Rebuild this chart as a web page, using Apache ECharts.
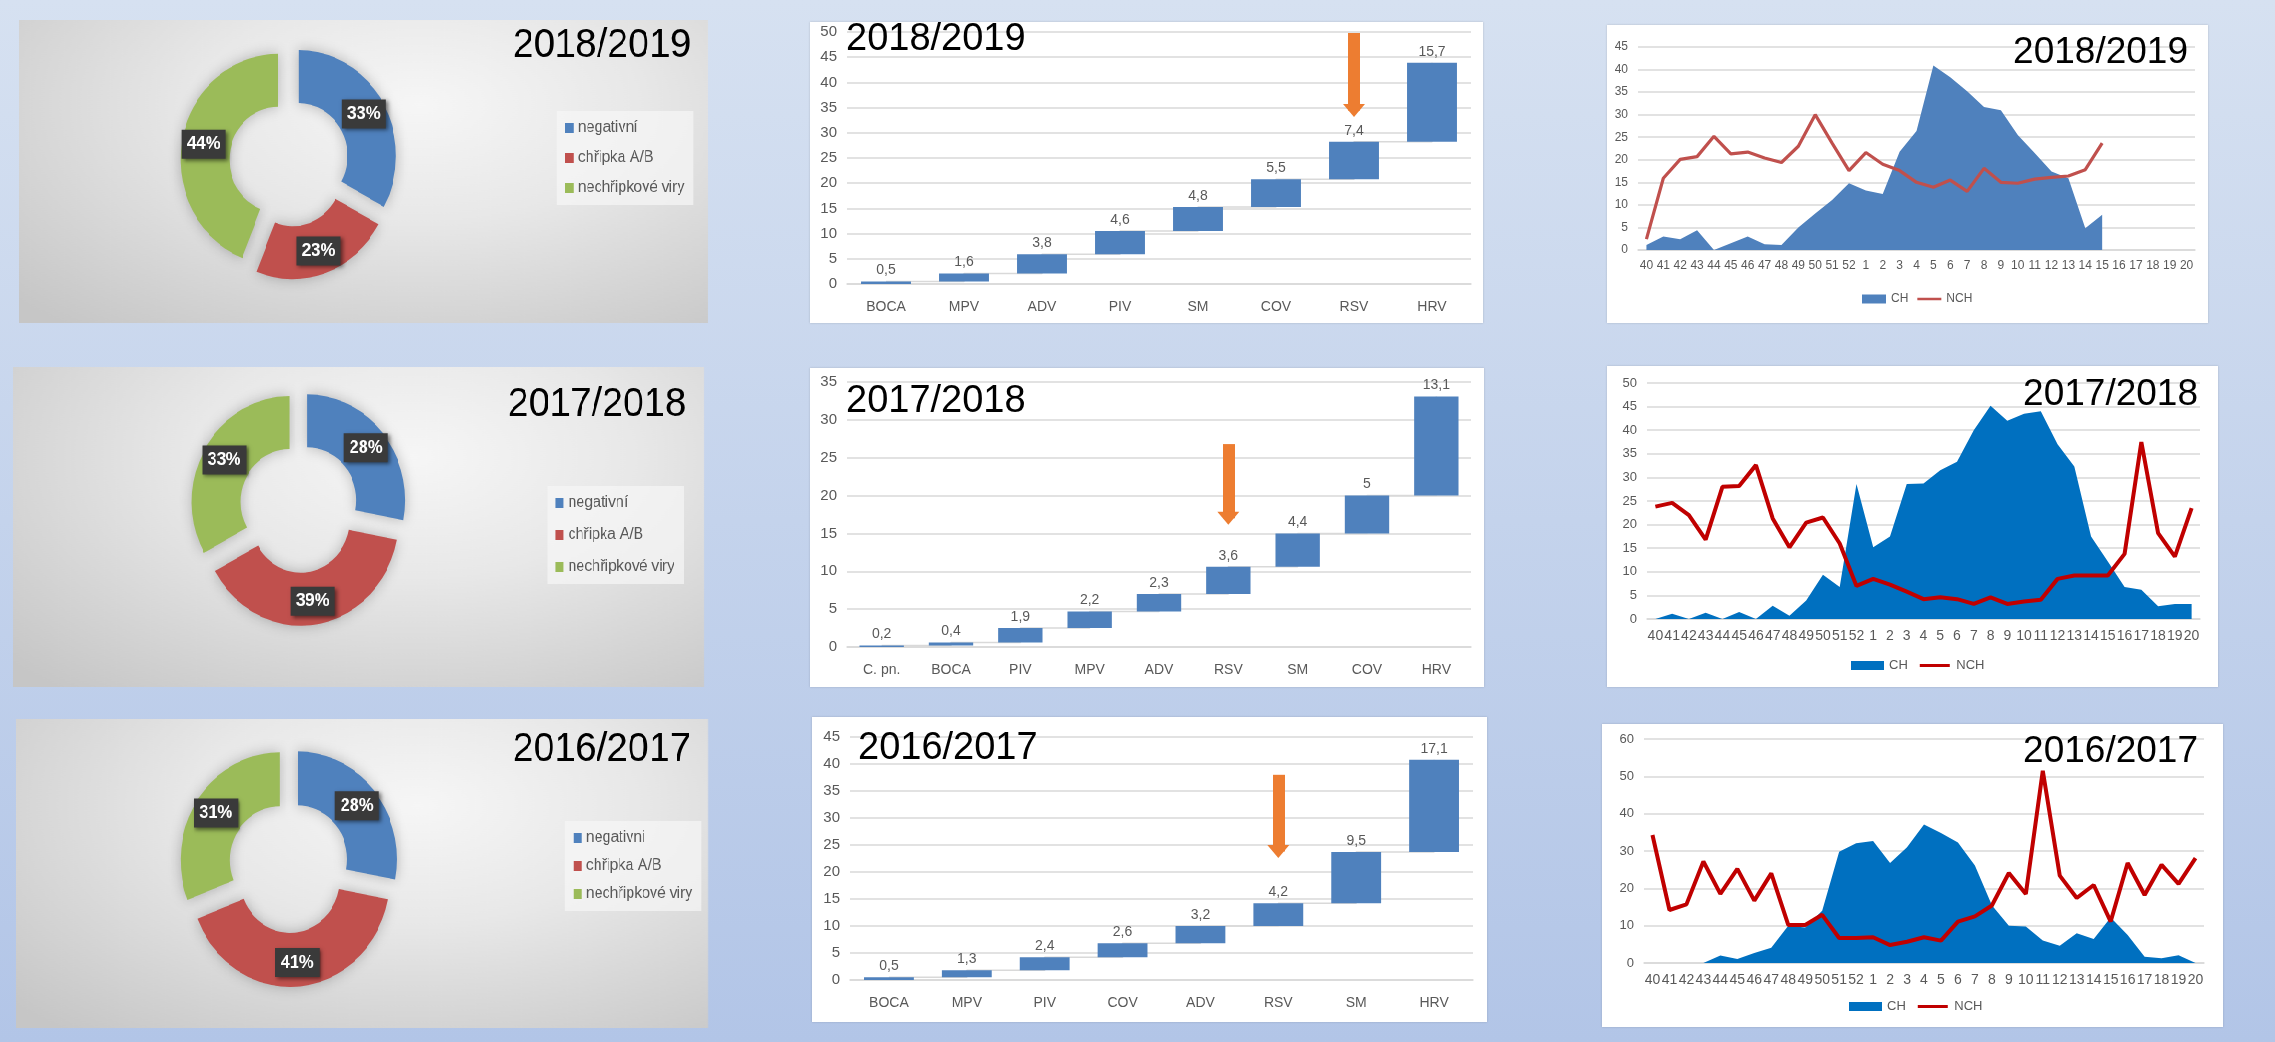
<!DOCTYPE html>
<html>
<head>
<meta charset="utf-8">
<script src="https://cdn.jsdelivr.net/npm/echarts@6/dist/echarts.min.js"></script>
<style>
  html, body { margin: 0; padding: 0; }
  body {
    width: 2275px; height: 1042px; overflow: hidden; position: relative;
    background: linear-gradient(to bottom, #d6e1f1 0%, #c4d3ec 50%, #b2c5e7 100%);
  }
  .panel { position: absolute; transform-origin: 0 0; }
  .pie {
    background: radial-gradient(ellipse 80% 95% at 58% 28%, #f6f6f6 0%, #e8e8e8 40%, #d4d4d4 75%, #c6c6c6 100%);
  }
  .card { background: #fff; box-shadow: 0 0 2px rgba(0, 0, 0, 0.18); }
</style>
</head>
<body>
<script>
const FONT = "'Liberation Sans', Arial, sans-serif";

// --- pie data (percent) ---
const pieNames = ['negativní', 'chřipka A/B', 'nechřipkové viry'];
const pieNames1617 = ['negativni', 'chřipka A/B', 'nechřipkové viry'];
const pie1819 = [33, 23, 44];
const pie1718 = [28, 39, 33];
const pie1617 = [28, 41, 31];

// --- waterfall data ---
const viruses1819 = ['BOCA', 'MPV', 'ADV', 'PIV', 'SM', 'COV', 'RSV', 'HRV'];
const values1819 = [0.5, 1.6, 3.8, 4.6, 4.8, 5.5, 7.4, 15.7];
const viruses1718 = ['C. pn.', 'BOCA', 'PIV', 'MPV', 'ADV', 'RSV', 'SM', 'COV', 'HRV'];
const values1718 = [0.2, 0.4, 1.9, 2.2, 2.3, 3.6, 4.4, 5, 13.1];
const viruses1617 = ['BOCA', 'MPV', 'PIV', 'COV', 'ADV', 'RSV', 'SM', 'HRV'];
const values1617 = [0.5, 1.3, 2.4, 2.6, 3.2, 4.2, 9.5, 17.1];

// --- weekly data ---
const weeks = ['40','41','42','43','44','45','46','47','48','49','50','51','52',
  '1','2','3','4','5','6','7','8','9','10','11','12','13','14','15','16','17','18','19','20'];
const ch1819 = [1.1, 3.0, 2.4, 4.4, 0, 1.5, 3.0, 1.3, 1.1, 5.0, 8.1, 11.1, 14.8,
  13.2, 12.4, 21.8, 26.4, 40.9, 38.3, 35.2, 31.7, 31.0, 25.5, 21.5, 17.4, 15.9, 4.8, 7.8, null, null, null, null, null];
const nch1819 = [2.4, 15.9, 20.1, 20.7, 25.2, 21.3, 21.7, 20.4, 19.4, 23.0, 30.0, 23.7, 17.6,
  21.6, 19.0, 17.6, 15.0, 13.9, 15.5, 13.0, 18.1, 15.0, 14.8, 15.7, 16.1, 16.4, 17.8, 23.7, null, null, null, null, null];
const ch1718 = [0, 1.1, 0, 1.3, 0, 1.5, 0, 2.8, 0.7, 3.9, 9.4, 6.8, 28.6,
  15.2, 17.5, 28.6, 28.7, 31.5, 33.3, 40.0, 45.2, 42.0, 43.5, 44.0, 37.0, 32.3, 17.5, 12.2, 6.8, 6.2, 2.7, 3.2, 3.2];
const nch1718 = [23.8, 24.6, 22.0, 16.8, 28.0, 28.2, 32.6, 21.3, 15.2, 20.4, 21.5, 16.0, 7.0,
  8.5, 7.3, 5.8, 4.2, 4.6, 4.2, 3.2, 4.6, 3.2, 3.7, 4.1, 8.5, 9.2, 9.2, 9.2, 13.8, 37.5, 18.2, 13.2, 23.5];
const ch1617 = [null, null, null, 0, 2.0, 1.1, 2.7, 4.1, 10.0, 9.5, 14.0, 29.8, 32.1,
  32.7, 26.8, 31.0, 37.1, 34.8, 32.3, 26.1, 15.5, 10.0, 9.8, 6.0, 4.6, 8.0, 6.4, 12.2, 7.5, 1.7, 1.3, 2.1, 0];
const nch1617 = [34.3, 14.2, 15.7, 27.2, 18.5, 25.2, 16.7, 24.0, 10.2, 10.2, 12.9, 6.7, 6.7,
  6.9, 4.8, 5.7, 6.9, 6.0, 11.1, 12.5, 15.4, 24.1, 18.5, 51.5, 23.4, 17.4, 20.9, 11.1, 26.8, 18.2, 26.3, 21.2, 28.1];

const pieColors = ['#4f81bd', '#c0504d', '#9bbb59'];
// thin bar icon for the NCH legend entry (empty points keep the box height)
const LINE_ICON = 'path://M0,0 L0.01,0 M0,3 L30,3 L30,6 L0,6 Z M0,9 L0.01,9';

// panel is placed at its visual box; sx < 1 squeezes it horizontally
function makePanel(p, cls) {
  const d = document.createElement('div');
  d.className = 'panel ' + cls;
  d.style.left = p.x + 'px';
  d.style.top = p.y + 'px';
  d.style.width = (p.w / p.sx) + 'px';
  d.style.height = p.h + 'px';
  d.style.transform = 'scaleX(' + p.sx + ')';
  document.body.appendChild(d);
  return echarts.init(d);
}
const inX = (p, vx) => (vx - p.x) / p.sx;
const inRight = (p, vx) => (p.x + p.w - vx) / p.sx;

function pieChart(p, title, names, values) {
  const chart = makePanel(p, 'pie');
  chart.setOption({
    animation: false,
    title: {
      text: title, right: inRight(p, p.titleR), top: p.titleY - p.y - 23, padding: 0,
      textStyle: { fontFamily: FONT, fontSize: 41, fontWeight: 'normal', color: '#000' }
    },
    legend: {
      orient: 'vertical', left: inX(p, p.legX), top: p.legY - p.y,
      backgroundColor: 'rgba(246,246,246,0.7)', padding: [9, 10, 9, 9],
      icon: 'rect', itemWidth: 9, itemHeight: 10, itemGap: p.legGap,
      textStyle: { fontFamily: FONT, fontSize: 16, color: '#595959' },
      selectedMode: false
    },
    series: [{
      type: 'pie', center: [inX(p, p.cx), p.cy - p.y], radius: p.r,
      startAngle: 90, selectedMode: 'multiple', selectedOffset: 12,
      emphasis: { disabled: true },
      itemStyle: { shadowBlur: 14, shadowColor: 'rgba(0,0,0,0.25)' },
      label: {
        show: true, position: 'inside', formatter: '{c}%',
        fontFamily: FONT, fontSize: 18, fontWeight: 'bold', color: '#fff',
        backgroundColor: '#3a3a3a', padding: [6, 6, 5, 6],
        shadowBlur: 4, shadowColor: 'rgba(0,0,0,0.5)', shadowOffsetX: 2, shadowOffsetY: 2
      },
      labelLine: { show: false },
      data: names.map((n, i) => ({ name: n, value: values[i], selected: true, itemStyle: { color: pieColors[i] } }))
    }]
  });
}

function barChart(p, title, cats, vals, yMax, arrow) {
  const tops = [];
  const base = [];
  let sum = 0;
  vals.forEach(v => { base.push(+sum.toFixed(2)); sum += v; tops.push(+sum.toFixed(2)); });
  const chart = makePanel(p, 'card');
  chart.setOption({
    animation: false,
    title: {
      text: title, left: inX(p, p.titleX), top: p.titleY - p.y - 22, padding: 0,
      textStyle: { fontFamily: FONT, fontSize: 38, fontWeight: 'normal', color: '#000' }
    },
    grid: { left: inX(p, p.gl), right: inRight(p, p.gr), top: p.gt - p.y, bottom: p.y + p.h - p.gb },
    xAxis: {
      type: 'category', data: cats,
      axisLine: { lineStyle: { color: '#d9d9d9', width: 1.5 } }, axisTick: { show: false },
      axisLabel: { fontFamily: FONT, fontSize: 14, color: '#595959', margin: 16, interval: 0 }
    },
    yAxis: {
      type: 'value', min: 0, max: yMax, interval: 5,
      axisLine: { show: false }, axisTick: { show: false },
      axisLabel: { fontFamily: FONT, fontSize: 15, color: '#595959', margin: 10 },
      splitLine: { lineStyle: { color: '#d9d9d9', width: 1.5 } }
    },
    series: [
      {
        type: 'line', step: 'end', data: tops, symbol: 'none', silent: true, z: 1,
        lineStyle: { color: '#d9d9d9', width: 1.5 }
      },
      {
        type: 'bar', stack: 'w', data: base, barWidth: '64%', silent: true, z: 2,
        itemStyle: { color: 'transparent' }
      },
      {
        type: 'bar', stack: 'w', data: vals, barWidth: '64%', z: 3,
        itemStyle: { color: '#4f81bd' },
        label: {
          show: true, position: 'top', distance: 4,
          formatter: d => String(d.value).replace('.', ','),
          fontFamily: FONT, fontSize: 14, color: '#595959'
        },
        markLine: {
          silent: true, animation: false, label: { show: false },
          symbol: ['none', 'triangle'], symbolSize: [22, 13],
          lineStyle: { color: '#ed7d31', width: 12, type: 'solid' },
          emphasis: { disabled: true },
          data: [[{ coord: ['RSV', arrow[0]] }, { coord: ['RSV', arrow[1]] }]]
        }
      }
    ]
  });
}

function lineChart(p, title, ch, nch, yMax, yStep, colors, lw, xFont, yFont) {
  const chart = makePanel(p, 'card');
  chart.setOption({
    animation: false,
    title: {
      text: title, right: inRight(p, p.titleR), top: p.titleY - p.y - 21, padding: 0,
      textStyle: { fontFamily: FONT, fontSize: 37, fontWeight: 'normal', color: '#000' }
    },
    legend: {
      left: inX(p, p.legX), top: p.legY - p.y - 7, padding: 0,
      itemWidth: p.legW, itemHeight: 9, itemGap: p.legGap,
      data: [{ name: 'CH', icon: 'rect' }, { name: 'NCH', icon: LINE_ICON }],
      textStyle: { fontFamily: FONT, fontSize: p.legFont, color: '#595959' },
      selectedMode: false
    },
    grid: { left: inX(p, p.gl), right: inRight(p, p.gr), top: p.gt - p.y, bottom: p.y + p.h - p.gb },
    xAxis: {
      type: 'category', data: weeks,
      axisLine: { lineStyle: { color: '#d9d9d9', width: 1.5 } }, axisTick: { show: false },
      axisLabel: { fontFamily: FONT, fontSize: xFont, color: '#595959', margin: 10, interval: 0 }
    },
    yAxis: {
      type: 'value', min: 0, max: yMax, interval: yStep,
      axisLine: { show: false }, axisTick: { show: false },
      axisLabel: { fontFamily: FONT, fontSize: yFont, color: '#595959', margin: 10 },
      splitLine: { lineStyle: { color: '#d9d9d9', width: 1.5 } }
    },
    series: [
      {
        name: 'CH', type: 'line', data: ch, symbol: 'none',
        lineStyle: { width: 0 }, itemStyle: { color: colors[0] },
        areaStyle: { color: colors[0], opacity: 1 }
      },
      {
        name: 'NCH', type: 'line', data: nch, symbol: 'none',
        lineStyle: { width: lw, color: colors[1] }, itemStyle: { color: colors[1] }
      }
    ]
  });
}

// visual layout (page pixels)
pieChart({ x: 19, y: 20, w: 689, h: 303, sx: 0.92, cx: 289, cy: 162, r: [53, 106],
  titleR: 691, titleY: 48, legX: 557, legY: 111, legGap: 14 }, '2018/2019', pieNames, pie1819);
pieChart({ x: 13, y: 367, w: 691, h: 320, sx: 0.92, cx: 299, cy: 508, r: [53, 106],
  titleR: 686, titleY: 407, legX: 547, legY: 486, legGap: 16 }, '2017/2018', pieNames, pie1718);
pieChart({ x: 16, y: 719, w: 692, h: 309, sx: 0.92, cx: 289, cy: 867, r: [54, 108],
  titleR: 691, titleY: 752, legX: 565, legY: 821, legGap: 12 }, '2016/2017', pieNames1617, pie1617);

barChart({ x: 810, y: 22, w: 673, h: 301, sx: 1, gl: 847, gr: 1471, gt: 32, gb: 284,
  titleX: 846, titleY: 43 }, '2018/2019', viruses1819, values1819, 50, [49.8, 34.4]);
barChart({ x: 810, y: 368, w: 674, h: 319, sx: 1, gl: 847, gr: 1471, gt: 382, gb: 647,
  titleX: 846, titleY: 405 }, '2017/2018', viruses1718, values1718, 35, [26.8, 17.0]);
barChart({ x: 812, y: 717, w: 675, h: 305, sx: 1, gl: 850, gr: 1473, gt: 737, gb: 980,
  titleX: 858, titleY: 752 }, '2016/2017', viruses1617, values1617, 45, [38.0, 23.8]);

lineChart({ x: 1607, y: 25, w: 601, h: 298, sx: 1, gl: 1638, gr: 2195, gt: 47, gb: 250,
  titleR: 2188, titleY: 55, legY: 300, legX: 1862, legW: 24, legGap: 9, legFont: 12 },
  '2018/2019', ch1819, nch1819, 45, 5, ['#4f81bd', '#c0504d'], 3.2, 12, 12);
lineChart({ x: 1607, y: 366, w: 611, h: 321, sx: 1, gl: 1647, gr: 2200, gt: 383, gb: 619,
  titleR: 2198, titleY: 397, legY: 666, legX: 1851, legW: 33, legGap: 12, legFont: 13 },
  '2017/2018', ch1718, nch1718, 50, 5, ['#0070c0', '#c00000'], 4, 14, 13);
lineChart({ x: 1602, y: 724, w: 621, h: 303, sx: 1, gl: 1644, gr: 2204, gt: 739, gb: 963,
  titleR: 2198, titleY: 754, legY: 1007, legX: 1849, legW: 33, legGap: 12, legFont: 13 },
  '2016/2017', ch1617, nch1617, 60, 10, ['#0070c0', '#c00000'], 4, 14, 13);
</script>
</body>
</html>
